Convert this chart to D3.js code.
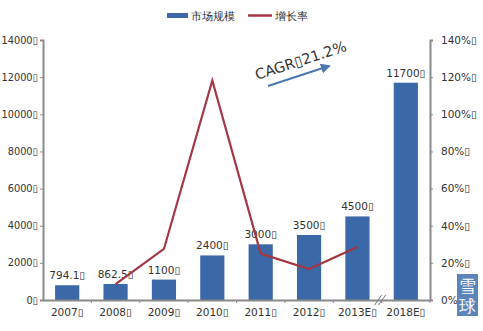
<!DOCTYPE html>
<html>
<head>
<meta charset="utf-8">
<script src="https://cdn.jsdelivr.net/npm/d3@7"></script>
<style>
  body { margin: 0; background: #fff; }
  text { font-family: "DejaVu Sans", sans-serif; fill: #333; }
</style>
</head>
<body>
<svg id="svg1" width="483" height="331"></svg>
<script>
// chart data
const years = ["2007▯", "2008▯", "2009▯", "2010▯", "2011▯", "2012▯", "2013E▯", "2018E▯"];
const marketSize = [794.1, 862.5, 1100, 2400, 3000, 3500, 4500, 11700];
const sizeLabels = ["794.1▯", "862.5▯", "1100▯", "2400▯", "3000▯", "3500▯", "4500▯", "11700▯"];
const growthRate = [null, 8.6, 27.5, 118.2, 25.0, 16.7, 28.6, null];
const leftTicks = [0, 2000, 4000, 6000, 8000, 10000, 12000, 14000];
const rightTicks = [0, 20, 40, 60, 80, 100, 120, 140];

let svg = d3.select("#svg1");
let marginLeft = 43, marginRight = 53, marginTop = 40, marginBottom = 31;
let width = 483 - marginLeft - marginRight;
let height = 331 - marginTop - marginBottom;

let x = d3.scaleBand().domain(years).range([0, width]).paddingInner(0.5).paddingOuter(0.25);
let xb = d3.scaleBand().domain(years).range([0, width]);
let y = d3.scaleLinear().domain([0, 14000]).range([height, 0]);
let y2 = d3.scaleLinear().domain([0, 140]).range([height, 0]);

let g = svg.append("g").attr("transform", `translate(${marginLeft},${marginTop})`);

// bars
g.selectAll(".bar")
  .data(marketSize)
  .enter().append("rect")
    .attr("x", (d, i) => x(years[i]))
    .attr("y", d => y(d))
    .attr("width", x.bandwidth())
    .attr("height", d => height - y(d))
    .attr("fill", "#3b68a6");

// bar value labels
g.selectAll(".lbl")
  .data(marketSize)
  .enter().append("text")
    .attr("x", (d, i) => x(years[i]) + x.bandwidth() / 2)
    .attr("y", d => y(d) - 6)
    .attr("text-anchor", "middle")
    .style("font-size", "10.5px")
    .text((d, i) => sizeLabels[i]);

// growth line
let line = d3.line()
  .defined(d => d != null)
  .x((d, i) => x(years[i]) + x.bandwidth() / 2)
  .y(d => y2(d));
g.append("path")
  .datum(growthRate)
  .attr("fill", "none")
  .attr("stroke", "#a33743")
  .attr("stroke-width", 2.2)
  .attr("d", line);

// left axis
let axL = g.append("g")
  .call(d3.axisLeft(y).tickValues(leftTicks).tickSize(3).tickPadding(2).tickFormat(d => d + "▯"));
// right axis
let axR = g.append("g")
  .attr("transform", `translate(${width},0)`)
  .call(d3.axisRight(y2).tickValues(rightTicks).tickSize(3).tickPadding(8).tickFormat(d => d + "%▯"));
// bottom axis
let axB = g.append("g")
  .attr("transform", `translate(0,${height})`)
  .call(d3.axisBottom(xb).tickSize(0).tickPadding(9));
axB.selectAll(".tick").append("line")
  .attr("x1", xb.bandwidth() / 2).attr("x2", xb.bandwidth() / 2)
  .attr("y1", 0).attr("y2", 3)
  .attr("stroke", "#888");

[axL, axR, axB].forEach(a => {
  a.selectAll(".domain").attr("stroke", "#8a8a8a").attr("stroke-width", 2);
  a.selectAll(".tick line").attr("stroke", "#8a8a8a");
  a.selectAll(".tick text").style("font-size", "10.5px").attr("fill", "#333");
});
axL.selectAll(".tick text").style("font-size", "9.8px");

// axis break marks between 2013E and 2018E
let bx = xb(years[7]);
[-3, 1].forEach(o => {
  g.append("line")
    .attr("x1", bx + o - 4).attr("y1", height + 5)
    .attr("x2", bx + o + 3).attr("y2", height - 5)
    .attr("stroke", "#777").attr("stroke-width", 1);
});

// CAGR annotation
let ann = svg.append("g").attr("transform", "translate(257,80) rotate(-18)");
ann.append("text")
  .style("font-size", "14.5px")
  .text("CAGR▯21.2%");
svg.append("defs").append("marker")
  .attr("id", "arr").attr("viewBox", "0 0 10 10")
  .attr("refX", 8).attr("refY", 5)
  .attr("markerWidth", 5).attr("markerHeight", 5)
  .attr("orient", "auto")
  .append("path").attr("d", "M0,0L10,5L0,10z").attr("fill", "#4a78b0");
svg.append("line")
  .attr("x1", 268).attr("y1", 86).attr("x2", 329).attr("y2", 66)
  .attr("stroke", "#4a78b0").attr("stroke-width", 2)
  .attr("marker-end", "url(#arr)");

// legend
let leg = svg.append("g");
leg.append("rect").attr("x", 167).attr("y", 13).attr("width", 21).attr("height", 5).attr("fill", "#3b68a6");
leg.append("text").attr("x", 191).attr("y", 20).style("font-size", "10.5px").attr("fill", "#555").text("市场规模");
leg.append("line").attr("x1", 248).attr("x2", 272).attr("y1", 15.5).attr("y2", 15.5)
  .attr("stroke", "#a33743").attr("stroke-width", 2.5);
leg.append("text").attr("x", 275).attr("y", 20).style("font-size", "10.5px").attr("fill", "#555").text("增长率");

// watermark
svg.append("rect").attr("x", 457).attr("y", 274).attr("width", 21).attr("height", 42).attr("fill", "#5b84b8");
svg.append("text").attr("x", 467.5).attr("y", 292).attr("text-anchor", "middle")
  .style("font-size", "17px").style("fill", "#fff").text("雪");
svg.append("text").attr("x", 467.5).attr("y", 312).attr("text-anchor", "middle")
  .style("font-size", "17px").style("fill", "#fff").text("球");
</script>
</body>
</html>
